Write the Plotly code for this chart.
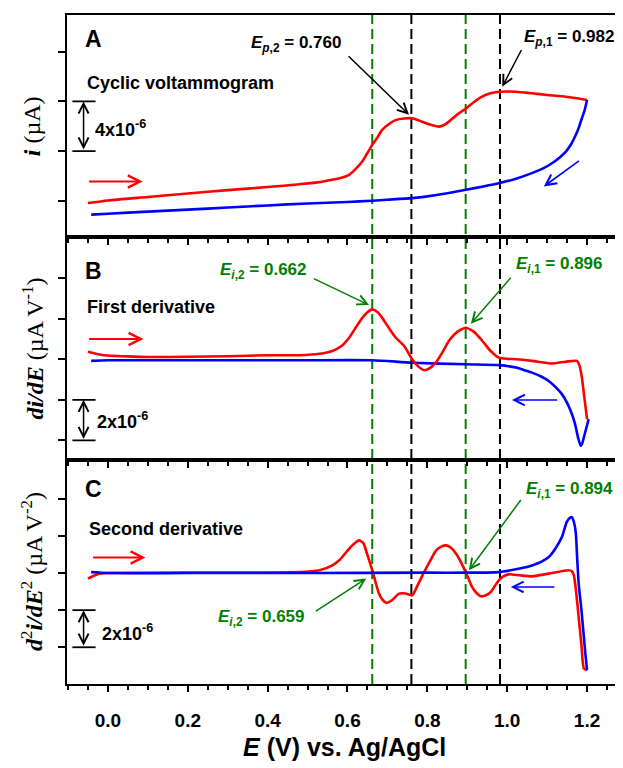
import plotly.graph_objects as go

# ---------------- data ----------------
# Panel A: cyclic voltammogram (uA)
E_fwd_A = [-0.05, 0.0, 0.1, 0.2, 0.3, 0.4, 0.48, 0.53, 0.562, 0.585, 0.604, 0.62, 0.637, 0.65, 0.662,
           0.675, 0.687, 0.705, 0.722, 0.742, 0.762, 0.78, 0.797, 0.815, 0.829, 0.842, 0.854, 0.875,
           0.897, 0.917, 0.937, 0.958, 0.979, 1.0, 1.022, 1.062, 1.1, 1.147, 1.175, 1.2]
i_fwd_A = [-0.19, 0.02, 0.3, 0.58, 0.85, 1.1, 1.33, 1.5, 1.69, 1.85, 2.09, 2.55, 3.16, 3.85, 4.5,
           5.1, 5.71, 6.2, 6.51, 6.62, 6.64, 6.45, 6.24, 6.05, 5.97, 6.1, 6.37, 6.95,
           7.44, 7.95, 8.38, 8.65, 8.78, 8.8, 8.78, 8.65, 8.52, 8.38, 8.25, 8.12]
E_rev_A = [1.2, 1.194, 1.187, 1.18, 1.172, 1.16, 1.147, 1.13, 1.112, 1.09, 1.062, 1.02, 0.979, 0.94,
           0.897, 0.85, 0.8, 0.762, 0.7, 0.662, 0.6, 0.5, 0.4, 0.3, 0.2, 0.1, 0.0, -0.042]
i_rev_A = [8.12, 7.3, 6.64, 5.95, 5.31, 4.55, 3.96, 3.45, 3.02, 2.6, 2.22, 1.75, 1.41, 1.15,
           0.88, 0.6, 0.35, 0.21, 0.08, 0.0, -0.1, -0.22, -0.38, -0.55, -0.72, -0.88, -1.05, -1.12]

# Panel B: first derivative
E_fwd_B = [-0.05, -0.03, -0.01, 0.05, 0.1, 0.2, 0.3, 0.4, 0.479, 0.53, 0.562, 0.585, 0.604, 0.622,
           0.637, 0.65, 0.662, 0.675, 0.687, 0.705, 0.721, 0.742, 0.762, 0.777, 0.792, 0.807, 0.821,
           0.838, 0.854, 0.875, 0.896, 0.917, 0.938, 0.958, 0.979, 1.0, 1.022, 1.062, 1.112, 1.147,
           1.175, 1.181, 1.187, 1.194, 1.2]
d1_fwd_B = [0.37, 0.27, 0.2, 0.14, 0.11, 0.12, 0.15, 0.2, 0.2, 0.27, 0.41, 0.65, 1.06, 1.6,
            2.04, 2.32, 2.46, 2.33, 2.04, 1.5, 1.06, 0.65, 0.0, -0.35, -0.54, -0.42, -0.17,
            0.35, 0.9, 1.35, 1.55, 1.35, 0.9, 0.42, 0.08, 0.02, 0.0, -0.08, -0.21, -0.12,
            -0.08, -0.3, -0.9, -2.0, -2.95]
E_rev_B = [1.204, 1.198, 1.192, 1.187, 1.184, 1.178, 1.17, 1.162, 1.15, 1.137, 1.12, 1.104, 1.085,
           1.062, 1.04, 1.022, 0.979, 0.897, 0.762, 0.662, 0.479, 0.2, 0.0, -0.042]
d1_rev_B = [-2.95, -3.4, -3.85, -4.2, -4.26, -3.9, -3.2, -2.7, -2.15, -1.72, -1.35, -1.07, -0.85,
            -0.66, -0.52, -0.41, -0.29, -0.25, -0.17, -0.05, -0.05, -0.05, -0.05, -0.08]

# Panel C: second derivative
E_fwd_C = [-0.05, -0.035, -0.02, 0.0, 0.2, 0.479, 0.53, 0.562, 0.58, 0.597, 0.615, 0.629, 0.64,
           0.649, 0.657, 0.664, 0.671, 0.679, 0.688, 0.697, 0.712, 0.729, 0.745, 0.762, 0.777,
           0.792, 0.807, 0.822, 0.835, 0.847, 0.86, 0.872, 0.885, 0.897, 0.905, 0.912, 0.922,
           0.934, 0.947, 0.959, 0.969, 0.979, 0.99, 1.004, 1.03, 1.062, 1.104, 1.154, 1.162,
           1.167, 1.173, 1.179, 1.186, 1.192, 1.2]
d2_fwd_C = [-0.3, -0.15, -0.03, 0.0, 0.02, 0.05, 0.15, 0.41, 0.7, 1.13, 1.55, 1.76, 1.6,
            1.04, 0.5, 0.0, -0.55, -1.11, -1.45, -1.61, -1.45, -1.11, -1.1, -1.2, -0.6,
            0.05, 0.65, 1.22, 1.42, 1.49, 1.35, 1.04, 0.55, 0.0, -0.4, -0.75, -1.05,
            -1.25, -1.2, -1.02, -0.7, -0.39, -0.18, -0.07, -0.12, -0.18, -0.03, 0.15, 0.1,
            -0.12, -1.1, -2.37, -3.9, -5.14, -5.23]
E_rev_C = [1.2, 1.196, 1.192, 1.186, 1.179, 1.175, 1.172, 1.167, 1.162, 1.156, 1.149, 1.137,
           1.12, 1.104, 1.085, 1.062, 1.04, 1.022, 0.979, 0.9, 0.8, 0.5, 0.2, 0.0, -0.042]
d2_rev_C = [-5.23, -4.4, -3.44, -2.0, -0.57, 0.9, 2.12, 2.75, 3.01, 2.95, 2.74, 1.94,
            1.3, 0.86, 0.6, 0.41, 0.28, 0.2, 0.05, 0.02, 0.02, 0.0, 0.0, 0.0, 0.05]

# axis ticks
yA_ticks = [0, 4, 8, 12]
yB_ticks = [-4, -2, 0, 2, 4]
yC_ticks = [-4, -2, 0, 2, 4]

# marked potentials
E_green = [0.662, 0.896]
E_black = [0.760, 0.982]

# ---------------- figure ----------------
RED = "#ff0000"
BLUE = "#0000ff"
GREEN = "#008000"
SANS = "Arial, Liberation Sans, sans-serif"
SERIF = "Times New Roman, Liberation Serif, serif"

fig = go.Figure()
line_w = 2.6
def add(xs, ys, color, xa, ya):
    fig.add_trace(go.Scatter(x=xs, y=ys, mode="lines", xaxis=xa, yaxis=ya,
                             line=dict(color=color, width=line_w, shape="spline", smoothing=0.6)))
add(E_fwd_A, i_fwd_A, RED, "x", "y")
add(E_rev_A, i_rev_A, BLUE, "x", "y")
add(E_rev_B, d1_rev_B, BLUE, "x2", "y2")
add(E_fwd_B, d1_fwd_B, RED, "x2", "y2")
add(E_fwd_C, d2_fwd_C, RED, "x3", "y3")
add(E_rev_C, d2_rev_C, BLUE, "x3", "y3")

x_range = [-0.1025, 1.2725]
common_x = dict(range=x_range, showline=True, linecolor="black", linewidth=2, mirror=True,
                ticks="outside", ticklen=6, tickwidth=2, tickcolor="black",
                tickmode="linear", tick0=0, dtick=0.2, tickformat=".1f",
                showgrid=False, zeroline=False,
                minor=dict(dtick=0.05, tick0=0, ticks="outside", ticklen=4, tickwidth=2,
                           tickcolor="black", showgrid=False))
common_y = dict(showline=True, linecolor="black", linewidth=2, mirror=True, ticks="outside",
                ticklen=7, tickwidth=2, tickcolor="black", showticklabels=False,
                showgrid=False, zeroline=False, tickmode="array")

# the page body has an 8px margin; size the figure so the plot lands where intended
OFF = 8
W, H = 623 - OFF, 768 - OFF
left_px, right_px, top_px, bot_px = 67, 617, 13, 684
plot_h = bot_px - top_px
plot_w = right_px - left_px
def frac(py):
    return (bot_px - py) / plot_h

fig.update_layout(
    width=W, height=H,
    margin=dict(l=left_px - OFF, r=W - (right_px - OFF), t=top_px - OFF, b=H - (bot_px - OFF)),
    paper_bgcolor="white", plot_bgcolor="white", showlegend=False,
    xaxis=dict(**common_x, anchor="y", showticklabels=False),
    xaxis2=dict(**common_x, anchor="y2", matches="x", showticklabels=False),
    xaxis3=dict(**common_x, anchor="y3", matches="x", showticklabels=True,
                ticklabelstandoff=12,
                tickfont=dict(family=SANS, size=19, color="black", weight="bold")),
    yaxis=dict(**common_y, domain=[frac(236), 1], range=[-2.95, 14.96], tickvals=yA_ticks),
    yaxis2=dict(**common_y, domain=[frac(459), frac(236)], range=[-4.95, 6.01], tickvals=yB_ticks),
    yaxis3=dict(**common_y, domain=[0, frac(459)], range=[-5.98, 6.11], tickvals=yC_ticks),
)

# dashed vertical markers through all panels
for xv in E_green:
    fig.add_shape(type="line", xref="x", yref="paper", x0=xv, x1=xv, y0=0, y1=1,
                  line=dict(color=GREEN, width=2, dash="10px,5px"), layer="below")
for xv in E_black:
    fig.add_shape(type="line", xref="x", yref="paper", x0=xv, x1=xv, y0=0, y1=1,
                  line=dict(color="black", width=2, dash="10px,5px"), layer="below")

ann = []
def text(x, y, t, xr, yr, size=18, color="black", xanchor="left", family=SANS):
    ann.append(dict(x=x, y=y, xref=xr, yref=yr, text=t, showarrow=False, xanchor=xanchor,
                    yanchor="middle", font=dict(family=family, size=size, color=color)))

def arrow(x0, y0, x1, y1, xr, yr, color="black", width=1.5, size=1.3, both=False):
    d = dict(x=x1, y=y1, ax=x0, ay=y0, xref=xr, yref=yr, axref=xr, ayref=yr, text="",
             showarrow=True, arrowhead=5, arrowsize=size, arrowwidth=width, arrowcolor=color,
             standoff=0, startstandoff=0)
    if both:
        d.update(arrowside="end+start", startarrowhead=5, startarrowsize=size)
    ann.append(d)

def scalebar(y_lo, y_hi, xr, yr, label, label_x, label_y):
    arrow(-0.061, y_lo, -0.061, y_hi, xr, yr, width=1.5, size=1.3, both=True)
    for yy in (y_lo, y_hi):
        fig.add_shape(type="line", xref=xr, yref=yr, x0=-0.089, x1=-0.031, y0=yy, y1=yy,
                      line=dict(color="black", width=1.8))
    text(label_x, label_y, label, xr, yr)

# Panel A
text(-0.062, 13.0, "<b>A</b>", "x", "y", size=23)
text(-0.058, 9.5, "<b>Cyclic voltammogram</b>", "x", "y")
scalebar(4, 8, "x", "y", "<b>4x10<sup>-6</sup></b>", -0.038, 5.8)
arrow(-0.051, 1.55, 0.087, 1.55, "x", "y", color=RED, width=2, size=1.2)
arrow(1.1835, 3.29, 1.0918, 1.15, "x", "y", color=BLUE, width=1.6, size=1.3)
text(0.472, 12.65, "<b><i>E</i><sub><i>p</i>,2</sub> = 0.760</b>", "x", "y", size=17, xanchor="center")
arrow(0.599, 11.75, 0.754, 6.93, "x", "y")
text(1.154, 13.07, "<b><i>E</i><sub><i>p</i>,1</sub> = 0.982</b>", "x", "y", size=17, xanchor="center")
arrow(1.0375, 12.26, 0.9875, 9.18, "x", "y")

# Panel B
text(-0.062, 4.36, "<b>B</b>", "x2", "y2", size=23)
text(-0.058, 2.57, "<b>First derivative</b>", "x2", "y2")
arrow(-0.051, 1.0, 0.089, 1.0, "x2", "y2", color=RED, width=2, size=1.2)
scalebar(-4, -2, "x2", "y2", "<b>2x10<sup>-6</sup></b>", -0.033, -3.03)
text(0.389, 4.37, "<b><i>E</i><sub><i>i</i>,2</sub> = 0.662</b>", "x2", "y2", size=17, color=GREEN, xanchor="center")
arrow(0.512, 4.01, 0.654, 2.67, "x2", "y2", color=GREEN)
text(1.132, 4.67, "<b><i>E</i><sub><i>i</i>,1</sub> = 0.896</b>", "x2", "y2", size=17, color=GREEN, xanchor="center")
arrow(1.012, 4.09, 0.909, 1.75, "x2", "y2", color=GREEN)
arrow(1.129, -2.01, 1.012, -2.01, "x2", "y2", color=BLUE, width=1.6, size=1.3)

# Panel C
text(-0.062, 4.55, "<b>C</b>", "x3", "y3", size=23)
text(-0.053, 2.4, "<b>Second derivative</b>", "x3", "y3")
arrow(-0.041, 0.84, 0.094, 0.84, "x3", "y3", color=RED, width=2, size=1.2)
scalebar(-4, -2, "x3", "y3", "<b>2x10<sup>-6</sup></b>", -0.021, -3.19)
text(0.385, -2.44, "<b><i>E</i><sub><i>i</i>,2</sub> = 0.659</b>", "x3", "y3", size=17, color=GREEN, xanchor="center")
arrow(0.517, -2.1, 0.647, -0.3, "x3", "y3", color=GREEN)
text(1.157, 4.45, "<b><i>E</i><sub><i>i</i>,1</sub> = 0.894</b>", "x3", "y3", size=17, color=GREEN, xanchor="center")
arrow(1.037, 4.02, 0.904, 0.145, "x3", "y3", color=GREEN)
arrow(1.122, -0.75, 1.009, -0.75, "x3", "y3", color=BLUE, width=1.6, size=1.3)

# axis titles
title_x = (32 - left_px) / plot_w
ann.append(dict(x=title_x, y=(frac(13) + frac(236)) / 2, xref="paper", yref="paper", textangle=-90,
                text="<b><i>i</i></b> (µA)", showarrow=False, xanchor="center", yanchor="middle",
                font=dict(family=SERIF, size=24, color="black")))
ann.append(dict(x=title_x, y=(frac(236) + frac(459)) / 2, xref="paper", yref="paper", textangle=-90,
                text="<b><i>di/dE</i></b> (µA V<sup>-1</sup>)", showarrow=False, xanchor="center",
                yanchor="middle", font=dict(family=SERIF, size=24, color="black")))
ann.append(dict(x=title_x, y=(frac(459) + frac(684)) / 2, xref="paper", yref="paper", textangle=-90,
                text="<b><i>d</i></b><sup>2</sup><b><i>i/dE</i></b><sup>2</sup> (µA V<sup>-2</sup>)",
                showarrow=False, xanchor="center", yanchor="middle",
                font=dict(family=SERIF, size=24, color="black")))
ann.append(dict(x=(345 - left_px) / plot_w, y=frac(747), xref="paper", yref="paper",
                text="<b><i>E</i> (V) vs. Ag/AgCl</b>", showarrow=False, xanchor="center",
                yanchor="middle", font=dict(family=SANS, size=25, color="black")))

fig.update_layout(annotations=ann)
fig.write_html("out.html")
